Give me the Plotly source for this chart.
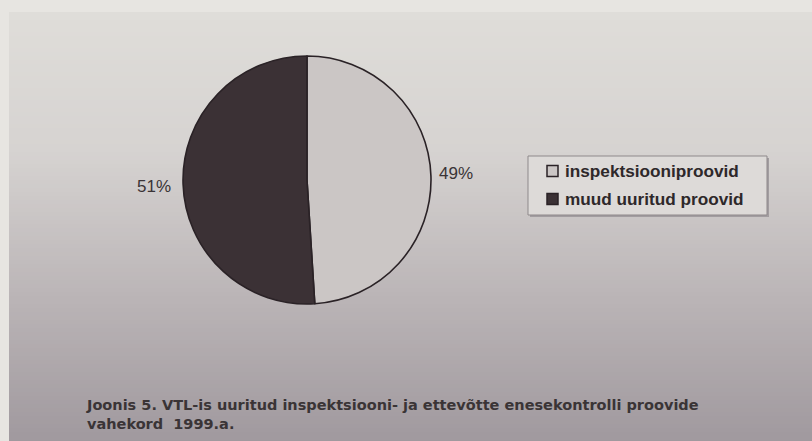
import plotly.graph_objects as go

# Sample shares, 1999
categories = ["inspektsiooniproovid", "muud uuritud proovid"]
shares = [49, 51]
caption_lines = [
    "Joonis 5. VTL-is uuritud inspektsiooni- ja ettevõtte enesekontrolli proovide",
    "vahekord  1999.a.",
]

W, H = 812, 441
slice_colors = ["#cbc6c5", "#3b3135"]
ink = "#2e282a"

fig = go.Figure()
fig.add_trace(go.Pie(
    labels=categories,
    values=shares,
    sort=False,
    direction="clockwise",
    rotation=0,
    textinfo="none",
    hoverinfo="label+percent",
    showlegend=False,
    marker=dict(colors=slice_colors, line=dict(color="#2a2226", width=1.6)),
    domain=dict(x=[183 / W, 431 / W], y=[1 - 304 / H, 1 - 56 / H]),
))

def px(x):
    return x / W

def py(y):
    return 1 - y / H

# Paper background: light margin strips and a vertical grey gradient
shapes = []
stops = [(12, (223, 221, 217)), (150, (214, 211, 209)), (300, (186, 180, 182)), (441, (160, 153, 158))]

def color_at(y):
    for (y0, c0), (y1, c1) in zip(stops[:-1], stops[1:]):
        if y0 <= y <= y1:
            t = (y - y0) / (y1 - y0)
            return "rgb(%d,%d,%d)" % tuple(round(a + (b - a) * t) for a, b in zip(c0, c1))
    return "rgb(%d,%d,%d)" % stops[-1][1]

band = 4
y = 12
while y < H:
    shapes.append(dict(type="rect", xref="paper", yref="paper", layer="below",
                       x0=px(9), x1=1, y0=py(y + band), y1=py(y),
                       line=dict(width=0), fillcolor=color_at(y + band / 2)))
    y += band

# Legend box with a soft shadow
lx0, lx1, ly0, ly1 = 528, 767, 156, 215
shapes.append(dict(type="rect", xref="paper", yref="paper", layer="below",
                   x0=px(lx0 + 2), x1=px(lx1 + 2), y0=py(ly1 + 2), y1=py(ly0 + 2),
                   line=dict(width=0), fillcolor="#a29da0"))
shapes.append(dict(type="rect", xref="paper", yref="paper", layer="below",
                   x0=px(lx0), x1=px(lx1), y0=py(ly1), y1=py(ly0),
                   line=dict(width=1, color="#8e898b"), fillcolor="#dddad8"))

annotations = []
row_y = [171, 199]
for name, col, ry in zip(categories, slice_colors, row_y):
    shapes.append(dict(type="rect", xref="paper", yref="paper", layer="above",
                       x0=px(547), x1=px(558), y0=py(ry + 5.5), y1=py(ry - 5.5),
                       line=dict(width=1.5, color="#2a2226"), fillcolor=col))
    annotations.append(dict(text="<b>%s</b>" % name, x=px(563), y=py(ry),
                            xref="paper", yref="paper", xanchor="left", yanchor="middle",
                            showarrow=False,
                            font=dict(family="Liberation Sans, Arial", size=17.2, color=ink)))

# Percentage labels beside each slice
total = sum(shares)
pct_font = dict(family="Liberation Sans, Arial", size=17, color="#3a3436")
annotations.append(dict(text="%d%%" % round(100 * shares[0] / total), x=px(437), y=py(173),
                        xref="paper", yref="paper", xanchor="left", yanchor="middle",
                        showarrow=False, font=pct_font))
annotations.append(dict(text="%d%%" % round(100 * shares[1] / total), x=px(173), y=py(186),
                        xref="paper", yref="paper", xanchor="right", yanchor="middle",
                        showarrow=False, font=pct_font))

# Figure caption
annotations.append(dict(
    text="<br>".join("<b>%s</b>" % s for s in caption_lines),
    x=px(84), y=py(395), xref="paper", yref="paper", xanchor="left", yanchor="top",
    align="left", showarrow=False,
    font=dict(family="DejaVu Sans", size=14.5, color="#3a3436"),
))

fig.update_layout(
    width=W, height=H,
    margin=dict(l=0, r=0, t=0, b=0),
    paper_bgcolor="#e7e5e1",
    plot_bgcolor="rgba(0,0,0,0)",
    shapes=shapes,
    annotations=annotations,
    showlegend=False,
)

fig.write_html("out.html")
